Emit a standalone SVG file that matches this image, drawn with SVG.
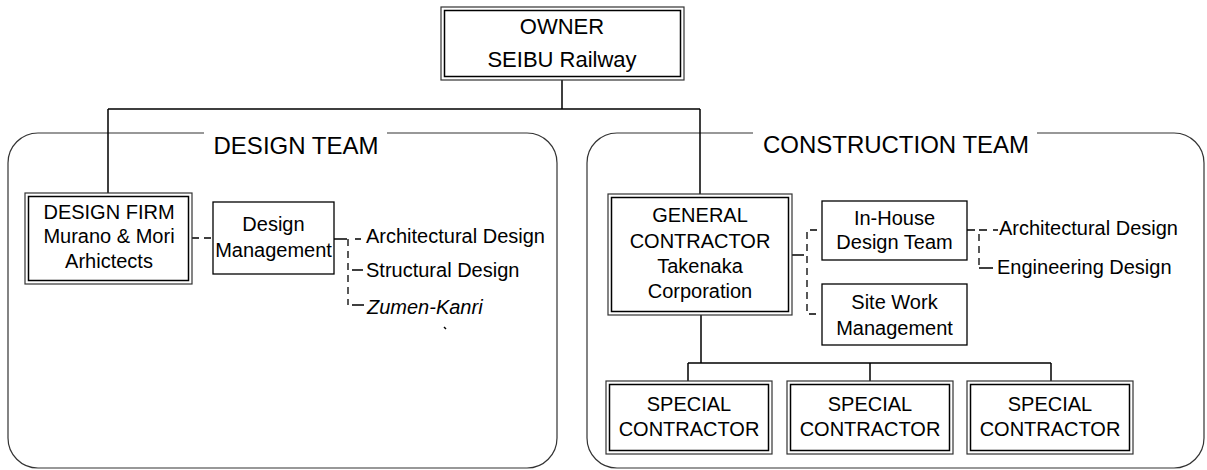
<svg xmlns="http://www.w3.org/2000/svg" width="1207" height="470" viewBox="0 0 1207 470">
<style>
text{font-family:"Liberation Sans",Arial,sans-serif;fill:#000}
.box{font-size:20px;text-anchor:middle}
.big{font-size:22px;text-anchor:middle}
.side{font-size:20px}
.team{font-size:24px;text-anchor:middle}
.outer{fill:#fff;stroke:#333;stroke-width:1.2}
.inner{fill:none;stroke:#000;stroke-width:1.5}
.single{fill:#fff;stroke:#000;stroke-width:1.3}
.cont{fill:none;stroke:#333;stroke-width:1.2}
.solid{fill:none;stroke:#000;stroke-width:1.5}
.dash{fill:none;stroke:#000;stroke-width:1.3;stroke-dasharray:7 5}
</style>
<rect width="1207" height="470" fill="#fff"/>
<g id="containers">
<path class="cont" d="M204,133 H38 A30,30 0 0 0 8,163 V438 A30,30 0 0 0 38,468 H527 A30,30 0 0 0 557,438 V163 A30,30 0 0 0 527,133 H387"/>
<text class="team" x="296" y="154">DESIGN TEAM</text>
<path class="cont" d="M753,133 H617 A30,30 0 0 0 587,163 V438 A30,30 0 0 0 617,468 H1174 A30,30 0 0 0 1204,438 V163 A30,30 0 0 0 1174,133 H1037"/>
<text class="team" x="896" y="153">CONSTRUCTION TEAM</text>
</g>
<g id="connectors">
<path class="solid" d="M562,80 V109 M108,109 H700 M108,109 V193 M700,109 V194"/>
<path class="dash" d="M192,238 H213"/>
<path class="solid" d="M334,239 H347"/>
<path class="dash" d="M348,239 V305"/>
<path class="solid" d="M355,239 H361 M352,270 H363 M352,305 H364"/>
<path class="solid" d="M444,327 L446,329" stroke-width="1"/>
<path class="solid" d="M792,255 H804"/>
<path class="dash" d="M817,230 H807 V314 H817"/>
<path class="solid" d="M967,230 H975 M979,230 H987 M993,230 H998"/>
<path class="dash" d="M979,234 V268"/>
<path class="solid" d="M979,268 H993"/>
<path class="solid" d="M701,315 V363" stroke-width="2"/>
<path class="solid" d="M688,363 H1051 M688,363 V381 M870,363 V381 M1051,363 V381"/>
</g>
<g id="owner">
<rect class="outer" x="441" y="7" width="243" height="73"/>
<rect class="inner" x="444.5" y="10.5" width="236" height="66"/>
<text class="big" x="562" y="34">OWNER</text>
<text class="big" x="562" y="67">SEIBU Railway</text>
</g>
<g id="design-firm">
<rect class="outer" x="25" y="193" width="167" height="91"/>
<rect class="inner" x="28.5" y="196.5" width="160" height="84"/>
<text class="box" x="109" y="219">DESIGN FIRM</text>
<text class="box" x="109" y="243">Murano &amp; Mori</text>
<text class="box" x="109" y="268">Arhictects</text>
</g>
<g id="design-management">
<rect class="single" x="213" y="202" width="121" height="72"/>
<text class="box" x="273.5" y="231">Design</text>
<text class="box" x="273.5" y="257">Management</text>
</g>
<g id="design-items">
<text class="side" x="366" y="243">Architectural Design</text>
<text class="side" x="366" y="277">Structural Design</text>
<text class="side" x="367" y="314" font-style="italic">Zumen-Kanri</text>
</g>
<g id="general-contractor">
<rect class="outer" x="608" y="194" width="184" height="121"/>
<rect class="inner" x="611.5" y="197.5" width="177" height="114"/>
<text class="box" x="700" y="222">GENERAL</text>
<text class="box" x="700" y="248">CONTRACTOR</text>
<text class="box" x="700" y="273">Takenaka</text>
<text class="box" x="700" y="298">Corporation</text>
</g>
<g id="in-house">
<rect class="single" x="822" y="201" width="145" height="59"/>
<text class="box" x="894.5" y="225">In-House</text>
<text class="box" x="894.5" y="249">Design Team</text>
</g>
<g id="site-work">
<rect class="single" x="822" y="284" width="145" height="61"/>
<text class="box" x="894.5" y="309">Site Work</text>
<text class="box" x="894.5" y="335">Management</text>
</g>
<g id="construction-items">
<text class="side" x="999" y="235">Architectural Design</text>
<text class="side" x="997" y="274">Engineering Design</text>
</g>
<g id="special-1">
<rect class="outer" x="606" y="381" width="166" height="73"/>
<rect class="inner" x="609.5" y="384.5" width="159" height="66"/>
<text class="box" x="689" y="411">SPECIAL</text>
<text class="box" x="689" y="436">CONTRACTOR</text>
</g>
<g id="special-2">
<rect class="outer" x="787" y="381" width="166" height="73"/>
<rect class="inner" x="790.5" y="384.5" width="159" height="66"/>
<text class="box" x="870" y="411">SPECIAL</text>
<text class="box" x="870" y="436">CONTRACTOR</text>
</g>
<g id="special-3">
<rect class="outer" x="967" y="381" width="166" height="73"/>
<rect class="inner" x="970.5" y="384.5" width="159" height="66"/>
<text class="box" x="1050" y="411">SPECIAL</text>
<text class="box" x="1050" y="436">CONTRACTOR</text>
</g>
</svg>
